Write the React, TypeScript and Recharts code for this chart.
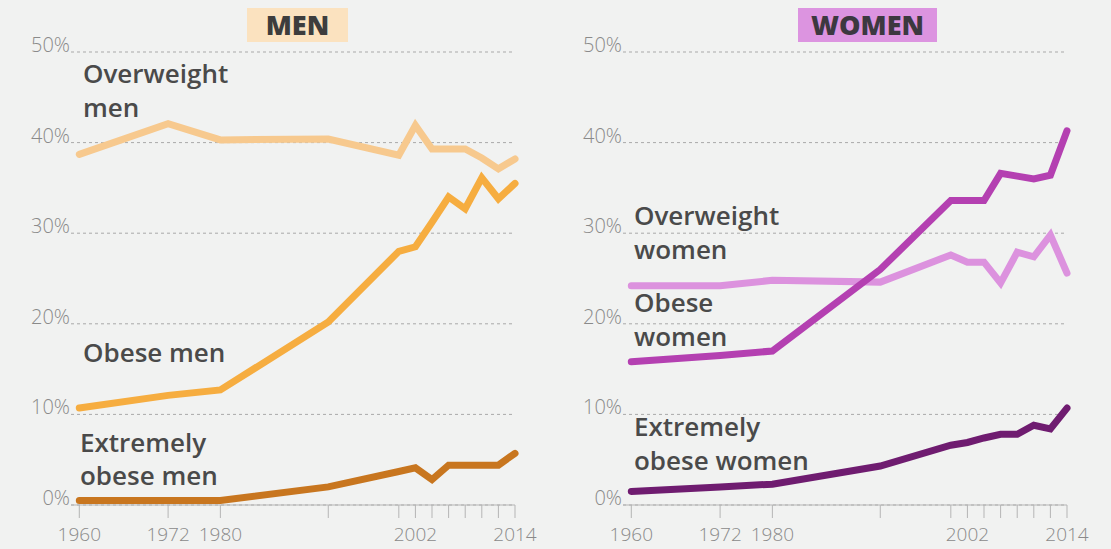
import { LineChart, Line, XAxis, YAxis, CartesianGrid } from "recharts";

// survey periods (NHANES), plotted at mid-years
const periods = [1961, 1971.7, 1978, 1991, 1999.5, 2001.5, 2003.5, 2005.5, 2007.5, 2009.5, 2011.5, 2013.5];
const periodLabels = ["1960", "1972", "1980", "", "", "2002", "", "", "", "", "", "2014"];
const yTicks = [0, 10, 20, 30, 40, 50];

const menOverweight = [38.7, 42.1, 40.3, 40.4, 38.6, 41.9, 39.3, 39.3, 39.3, 38.3, 37.1, 38.2];
const menObese = [10.7, 12.1, 12.7, 20.2, 28.0, 28.5, 31.2, 34.0, 32.7, 36.1, 33.8, 35.5];
const menExtreme = [0.5, 0.5, 0.5, 2.0, 3.7, 4.1, 2.8, 4.4, 4.4, 4.4, 4.4, 5.7];

const womenOverweight = [24.2, 24.2, 24.8, 24.6, 27.6, 26.8, 26.8, 24.5, 27.9, 27.4, 29.8, 25.6];
const womenObese = [15.8, 16.5, 17.0, 26.0, 33.6, 33.6, 33.6, 36.6, 36.3, 36.0, 36.4, 41.3];
const womenExtreme = [1.5, 2.0, 2.3, 4.3, 6.6, 6.9, 7.4, 7.8, 7.8, 8.8, 8.4, 10.7];

const BG = "#f1f2f1";
const AXIS_Y = 505;
const LABEL_FONT = "'Open Sans', Roboto, sans-serif";

function buildRows(ow: number[], ob: number[], ex: number[]) {
  return periods.map((x, i) => ({ x, overweight: ow[i], obese: ob[i], extreme: ex[i] }));
}

function YTick(props: any) {
  const { y, payload } = props;
  return (
    <text x={70} y={y} textAnchor="end" fill="#8a8a8a" fontSize={20} fontWeight={300} fontFamily={LABEL_FONT}>
      {payload.value}%
    </text>
  );
}

function XTick(props: any) {
  const { x, payload } = props;
  const label = periodLabels[periods.indexOf(payload.value)];
  return (
    <g>
      <line x1={x} x2={x} y1={AXIS_Y} y2={AXIS_Y + 13} stroke="#b5b5b5" strokeWidth={1} />
      {label ? (
        <text x={x} y={541} textAnchor="middle" fill="#8a8a8a" fontSize={19} fontWeight={300} fontFamily={LABEL_FONT}>
          {label}
        </text>
      ) : null}
    </g>
  );
}

type PanelProps = {
  rows: ReturnType<typeof buildRows>;
  colors: [string, string, string];
};

function Panel({ rows, colors }: PanelProps) {
  return (
    <LineChart width={552} height={549} data={rows} margin={{ top: 52, right: 37, left: 0, bottom: 0 }}>
      <CartesianGrid vertical={false} stroke="#a9a9a9" strokeDasharray="3 3" />
      <XAxis
        dataKey="x"
        type="number"
        domain={[1960, 2013.5]}
        ticks={periods}
        interval={0}
        height={44}
        axisLine={{ stroke: "#b5b5b5" }}
        tickLine={false}
        tick={XTick}
      />
      <YAxis width={71} domain={[0, 50]} ticks={yTicks} interval={0} axisLine={false} tickLine={false} tick={YTick} />
      <Line dataKey="overweight" type="linear" stroke={colors[0]} strokeWidth={7} dot={false} strokeLinecap="round" isAnimationActive={false} />
      <Line dataKey="obese" type="linear" stroke={colors[1]} strokeWidth={7} dot={false} strokeLinecap="round" isAnimationActive={false} />
      <Line dataKey="extreme" type="linear" stroke={colors[2]} strokeWidth={7} dot={false} strokeLinecap="round" isAnimationActive={false} />
    </LineChart>
  );
}

const annot = { fill: "#4a4a4a", fontSize: 26, fontWeight: 600, fontFamily: LABEL_FONT };
const title = { fontSize: 27, fontWeight: 800, fontFamily: LABEL_FONT, textAnchor: "middle" as const };

export default function App() {
  return (
    <div style={{ position: "absolute", left: 0, top: 0, width: 1111, height: 549, background: BG, overflow: "hidden" }}>
      <div style={{ position: "absolute", left: 0, top: 0 }}>
        <Panel rows={buildRows(menOverweight, menObese, menExtreme)} colors={["#f7c98e", "#f6ad40", "#c8761f"]} />
      </div>
      <div style={{ position: "absolute", left: 552, top: 0 }}>
        <Panel rows={buildRows(womenOverweight, womenObese, womenExtreme)} colors={["#dc92de", "#b440b1", "#6f1c70"]} />
      </div>
      <svg width={1111} height={549} style={{ position: "absolute", left: 0, top: 0, pointerEvents: "none" }}>
        <rect x={247} y={8} width={101} height={34} fill="#fbe2bf" />
        <text x={297.5} y={35} fill="#3d3d3d" {...title}>MEN</text>
        <rect x={798} y={8} width={139} height={34} fill="#dc94e0" />
        <text x={867.5} y={35} fill="#3c3840" {...title}>WOMEN</text>

        <text x={83} y={83} {...annot}>Overweight</text>
        <text x={83} y={117} {...annot}>men</text>
        <text x={83} y={362} {...annot}>Obese men</text>
        <text x={80} y={452} {...annot}>Extremely</text>
        <text x={80} y={485} {...annot}>obese men</text>

        <text x={634} y={225} {...annot}>Overweight</text>
        <text x={634} y={259} {...annot}>women</text>
        <text x={634} y={312} {...annot}>Obese</text>
        <text x={634} y={346} {...annot}>women</text>
        <text x={634} y={436} {...annot}>Extremely</text>
        <text x={634} y={470} {...annot}>obese women</text>
      </svg>
    </div>
  );
}
